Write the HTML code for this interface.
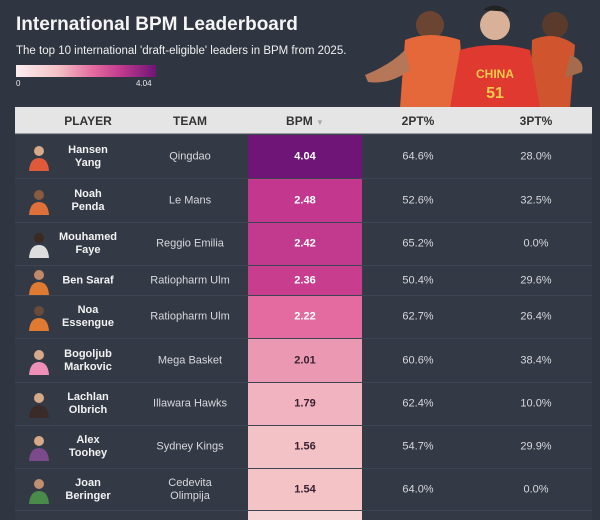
<!DOCTYPE html>
<html><head><meta charset="utf-8"><style>
*{margin:0;padding:0;box-sizing:border-box}
body{width:600px;height:514px;background:#2f3541;font-family:"Liberation Sans",sans-serif;position:relative;overflow:hidden;color:#e8e8ea}
.a{position:absolute}
h1{position:absolute;left:16px;top:14px;font-size:19px;font-weight:bold;color:#f4f4f4}
.sub{left:16px;top:45px;font-size:11.5px;color:#f0f0f0}
.grad{left:16px;top:65px;width:140px;height:12px;background:linear-gradient(90deg,#fbeef0,#f3c1c6 30%,#e46b9f 55%,#c23a8e 75%,#6e1577)}
.hdr{left:15px;top:107px;width:577px;height:27px;background:#e5e5e6;border-bottom:1px solid #999}
.hdr span{position:absolute;top:7px;font-size:12px;font-weight:bold;color:#333;transform:translateX(-50%)}
.row{position:absolute;left:15px;width:577px;background:#333a46;border-top:1px solid #3e4552}
.c{position:absolute;top:50%;transform:translate(-50%,-50%);text-align:center;font-size:11px;line-height:13px}
.nm{font-weight:bold;color:#f2f2f2}
.tm{color:#d8d8dc}
.bp{position:absolute;left:233px;width:114px;top:0;bottom:0}
.av{position:absolute;left:12px;top:50%;width:24px;height:28px;transform:translateY(-50%)}
</style></head><body>
<h1>International BPM Leaderboard</h1>
<div class="a sub">The top 10 international 'draft-eligible' leaders in BPM from 2025.</div>
<div class="a grad"></div>
<div class="a" style="left:16px;top:79px;font-size:8px">0</div>
<div class="a" style="left:136px;top:79px;font-size:8px">4.04</div>
<svg class="a" style="left:360px;top:0" width="230" height="108">
<circle cx="70" cy="25" r="14" fill="#6b4532"/><path d="M40 108 L45 40 Q70 30 100 40 L105 108Z" fill="#e5683a"/>
<path d="M5 75 Q30 65 45 50 L50 70 Q30 85 8 82Z" fill="#b67658"/>
<circle cx="195" cy="25" r="13" fill="#5a3a2a"/><path d="M170 108 L172 40 Q195 30 215 45 L210 108Z" fill="#d0552e"/>
<path d="M210 55 Q225 60 222 72 L205 78Z" fill="#a66a4c"/>
<circle cx="135" cy="25" r="15" fill="#d9b199"/><path d="M123 10 Q135 0 150 12Z" fill="#222"/>
<path d="M90 108 L100 50 Q135 40 170 50 L180 108Z" fill="#e0392f"/>
<text x="135" y="78" font-size="12" font-weight="bold" fill="#f2c94c" text-anchor="middle" font-family="Liberation Sans">CHINA</text>
<text x="135" y="98" font-size="16" font-weight="bold" fill="#f2c94c" text-anchor="middle" font-family="Liberation Sans">51</text>
</svg>
<div class="a hdr"><span style="left:73px">PLAYER</span><span style="left:175px">TEAM</span><span style="left:290px">BPM <span style="position:static;color:#aaa;font-size:8px;transform:none">▼</span></span><span style="left:403px">2PT%</span><span style="left:521px">3PT%</span></div>

<div class="row" style="top:134px;height:44px"><svg class="av" viewBox="0 0 24 28"><circle cx="12" cy="8" r="5" fill="#d6a98a"/><path d="M2 28 Q3 15 12 15 Q21 15 22 28Z" fill="#e05a3a"/></svg><div class="c nm" style="left:73px">Hansen<br>Yang</div><div class="c tm" style="left:175px">Qingdao</div><div class="bp" style="background:#6e1577"><div class="c nm" style="left:57px;color:#fff">4.04</div></div><div class="c tm" style="left:403px">64.6%</div><div class="c tm" style="left:521px">28.0%</div></div>
<div class="row" style="top:178px;height:44px"><svg class="av" viewBox="0 0 24 28"><circle cx="12" cy="8" r="5" fill="#8a5a40"/><path d="M2 28 Q3 15 12 15 Q21 15 22 28Z" fill="#e0703a"/></svg><div class="c nm" style="left:73px">Noah<br>Penda</div><div class="c tm" style="left:175px">Le Mans</div><div class="bp" style="background:#c3388e"><div class="c nm" style="left:57px;color:#fff">2.48</div></div><div class="c tm" style="left:403px">52.6%</div><div class="c tm" style="left:521px">32.5%</div></div>
<div class="row" style="top:222px;height:43px"><svg class="av" viewBox="0 0 24 28"><circle cx="12" cy="8" r="5" fill="#3a2a22"/><path d="M2 28 Q3 15 12 15 Q21 15 22 28Z" fill="#ddd"/></svg><div class="c nm" style="left:73px">Mouhamed<br>Faye</div><div class="c tm" style="left:175px">Reggio Emilia</div><div class="bp" style="background:#c23a8e"><div class="c nm" style="left:57px;color:#fff">2.42</div></div><div class="c tm" style="left:403px">65.2%</div><div class="c tm" style="left:521px">0.0%</div></div>
<div class="row" style="top:265px;height:30px"><svg class="av" viewBox="0 0 24 28"><circle cx="12" cy="8" r="5" fill="#c08a6a"/><path d="M2 28 Q3 15 12 15 Q21 15 22 28Z" fill="#e07a30"/></svg><div class="c nm" style="left:73px">Ben Saraf</div><div class="c tm" style="left:175px">Ratiopharm Ulm</div><div class="bp" style="background:#c83d8e"><div class="c nm" style="left:57px;color:#fff">2.36</div></div><div class="c tm" style="left:403px">50.4%</div><div class="c tm" style="left:521px">29.6%</div></div>
<div class="row" style="top:295px;height:43px"><svg class="av" viewBox="0 0 24 28"><circle cx="12" cy="8" r="5" fill="#6a4a38"/><path d="M2 28 Q3 15 12 15 Q21 15 22 28Z" fill="#e07a30"/></svg><div class="c nm" style="left:73px">Noa<br>Essengue</div><div class="c tm" style="left:175px">Ratiopharm Ulm</div><div class="bp" style="background:#e46b9f"><div class="c nm" style="left:57px;color:#fff">2.22</div></div><div class="c tm" style="left:403px">62.7%</div><div class="c tm" style="left:521px">26.4%</div></div>
<div class="row" style="top:338px;height:44px"><svg class="av" viewBox="0 0 24 28"><circle cx="12" cy="8" r="5" fill="#d6a98a"/><path d="M2 28 Q3 15 12 15 Q21 15 22 28Z" fill="#ee8fb8"/></svg><div class="c nm" style="left:73px">Bogoljub<br>Markovic</div><div class="c tm" style="left:175px">Mega Basket</div><div class="bp" style="background:#eb98b2"><div class="c nm" style="left:57px;color:#3a2030">2.01</div></div><div class="c tm" style="left:403px">60.6%</div><div class="c tm" style="left:521px">38.4%</div></div>
<div class="row" style="top:382px;height:43px"><svg class="av" viewBox="0 0 24 28"><circle cx="12" cy="8" r="5" fill="#d6a98a"/><path d="M2 28 Q3 15 12 15 Q21 15 22 28Z" fill="#3a2a2a"/></svg><div class="c nm" style="left:73px">Lachlan<br>Olbrich</div><div class="c tm" style="left:175px">Illawara Hawks</div><div class="bp" style="background:#f2b3c0"><div class="c nm" style="left:57px;color:#3a2030">1.79</div></div><div class="c tm" style="left:403px">62.4%</div><div class="c tm" style="left:521px">10.0%</div></div>
<div class="row" style="top:425px;height:43px"><svg class="av" viewBox="0 0 24 28"><circle cx="12" cy="8" r="5" fill="#d6a98a"/><path d="M2 28 Q3 15 12 15 Q21 15 22 28Z" fill="#7a4a8a"/></svg><div class="c nm" style="left:73px">Alex<br>Toohey</div><div class="c tm" style="left:175px">Sydney Kings</div><div class="bp" style="background:#f3c2c6"><div class="c nm" style="left:57px;color:#3a2030">1.56</div></div><div class="c tm" style="left:403px">54.7%</div><div class="c tm" style="left:521px">29.9%</div></div>
<div class="row" style="top:468px;height:42px"><svg class="av" viewBox="0 0 24 28"><circle cx="12" cy="8" r="5" fill="#c09070"/><path d="M2 28 Q3 15 12 15 Q21 15 22 28Z" fill="#4a8a4a"/></svg><div class="c nm" style="left:73px">Joan<br>Beringer</div><div class="c tm" style="left:175px">Cedevita<br>Olimpija</div><div class="bp" style="background:#f3c3c6"><div class="c nm" style="left:57px;color:#3a2030">1.54</div></div><div class="c tm" style="left:403px">64.0%</div><div class="c tm" style="left:521px">0.0%</div></div>
<div class="row" style="top:510px;height:10px"><div class="bp" style="background:#f6d4d6"></div></div>
</body></html>
